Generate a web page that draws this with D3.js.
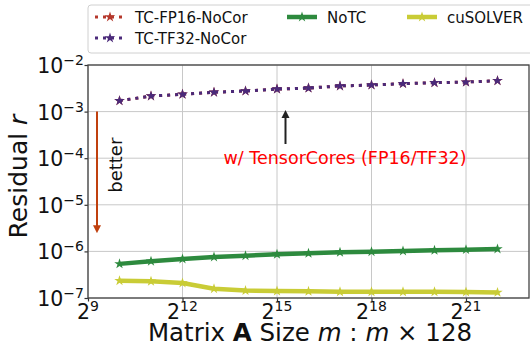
<!DOCTYPE html>
<html>
<head>
<meta charset="utf-8">
<script src="https://cdn.jsdelivr.net/npm/d3@7"></script>
<style>
  body { margin: 0; background: #fff; }
  svg { font-family: 'DejaVu Sans', sans-serif; }
</style>
</head>
<body>
<div id="chart"></div>
<script>
// Data

const sizeExp = [10, 11, 12, 13, 14, 15, 16, 17, 18, 19, 20, 21, 22];
const fp16NoCor = [1.71e-3, 2.16e-3, 2.35e-3, 2.6e-3, 2.77e-3, 3.05e-3, 3.2e-3, 3.55e-3, 3.72e-3, 3.98e-3, 4.17e-3, 4.3e-3, 4.6e-3];
const tf32NoCor = [1.71e-3, 2.16e-3, 2.35e-3, 2.6e-3, 2.77e-3, 3.05e-3, 3.2e-3, 3.55e-3, 3.72e-3, 3.98e-3, 4.17e-3, 4.3e-3, 4.6e-3];
const noTC = [5.4e-7, 6.14e-7, 6.87e-7, 7.58e-7, 8.09e-7, 8.67e-7, 9.1e-7, 9.57e-7, 9.86e-7, 1.02e-6, 1.057e-6, 1.09e-6, 1.13e-6];
const cuSolver = [2.35e-7, 2.28e-7, 2.1e-7, 1.58e-7, 1.44e-7, 1.41e-7, 1.39e-7, 1.36e-7, 1.36e-7, 1.36e-7, 1.36e-7, 1.35e-7, 1.32e-7];

const xTickExp = [9, 12, 15, 18, 21];
const yTickExp = [-2, -3, -4, -5, -6, -7];

const series = [
  { name: 'TC-FP16-NoCor', values: fp16NoCor, color: '#b5382c', dotted: true },
  { name: 'TC-TF32-NoCor', values: tf32NoCor, color: '#4b2a7a', dotted: true },
  { name: 'NoTC', values: noTC, color: '#2d8a3e', dotted: false },
  { name: 'cuSOLVER', values: cuSolver, color: '#c9cc36', dotted: false },
];

const width = 530;
const height = 347;
const margin = { top: 65, right: 1, bottom: 49, left: 88 };

const svg = d3.select('#chart').append('svg')
  .attr('width', width)
  .attr('height', height);

const plotW = width - margin.left - margin.right;
const plotH = height - margin.top - margin.bottom;

const xScale = d3.scaleLog().base(2).domain([2 ** 9, 2 ** 23]).range([0, plotW]);
const yScale = d3.scaleLog().domain([1e-7, 1e-2]).range([plotH, 0]);

const g = svg.append('g').attr('transform', `translate(${margin.left},${margin.top})`);

// grid
g.append('g').selectAll('line')
  .data(xTickExp)
  .join('line')
  .attr('x1', d => xScale(2 ** d)).attr('x2', d => xScale(2 ** d))
  .attr('y1', 0).attr('y2', plotH)
  .attr('stroke', '#c8c8c8').attr('stroke-width', 1);

g.append('g').selectAll('line')
  .data(yTickExp)
  .join('line')
  .attr('y1', d => yScale(10 ** d)).attr('y2', d => yScale(10 ** d))
  .attr('x1', 0).attr('x2', plotW)
  .attr('stroke', '#c8c8c8').attr('stroke-width', 1);

// axes (ticks only, labels drawn with superscripts below)
const xAxis = d3.axisBottom(xScale).tickValues(xTickExp.map(d => 2 ** d)).tickFormat('').tickSize(3.5);
const yAxis = d3.axisLeft(yScale).tickValues(yTickExp.map(d => 10 ** d)).tickFormat('').tickSize(3.5);

const xAxisGroup = g.append('g').attr('transform', `translate(0,${plotH})`).call(xAxis);
const yAxisGroup = g.append('g').call(yAxis);
[xAxisGroup, yAxisGroup].forEach(ax => {
  ax.select('.domain').remove();
  ax.selectAll('.tick line').attr('stroke', '#333').attr('stroke-width', 1.2);
});

// x tick labels 2^n
xTickExp.forEach(e => {
  const t = g.append('text')
    .attr('x', xScale(2 ** e))
    .attr('y', plotH + 21)
    .attr('text-anchor', 'middle')
    .attr('font-size', 20.5)
    .attr('fill', '#111');
  t.append('tspan').text('2');
  t.append('tspan').attr('font-size', 14).attr('dy', -8).text(e);
});

// y tick labels 10^n
yTickExp.forEach(e => {
  const t = g.append('text')
    .attr('x', -4)
    .attr('y', yScale(10 ** e) + 8)
    .attr('text-anchor', 'end')
    .attr('font-size', 20.5)
    .attr('fill', '#111');
  t.append('tspan').text('10');
  t.append('tspan').attr('font-size', 14).attr('dy', -8).text('\u2212' + Math.abs(e));
});

// spines
g.append('rect')
  .attr('width', plotW).attr('height', plotH)
  .attr('fill', 'none').attr('stroke', '#444').attr('stroke-width', 1.3);

// lines
const line = d3.line()
  .x((d, i) => xScale(2 ** sizeExp[i]))
  .y(d => yScale(d));

const star = d3.symbol().type(d3.symbolStar).size(34);

series.forEach(s => {
  g.append('path')
    .datum(s.values)
    .attr('d', line)
    .attr('fill', 'none')
    .attr('stroke', s.color)
    .attr('stroke-width', s.dotted ? 3 : 4.5)
    .attr('stroke-dasharray', s.dotted ? '3,5' : null)
    .attr('stroke-linejoin', 'round');

  g.append('g').selectAll('path')
    .data(s.values)
    .join('path')
    .attr('d', star)
    .attr('transform', (d, i) => `translate(${xScale(2 ** sizeExp[i])},${yScale(d)})`)
    .attr('fill', s.color);
});

// arrow heads
svg.append('defs').html(`
  <marker id="headOrange" viewBox="0 0 10 10" refX="5" refY="5" markerWidth="4" markerHeight="5" orient="auto">
    <path d="M0,0 L10,5 L0,10 z" fill="#c0400e"/>
  </marker>
  <marker id="headBlack" viewBox="0 0 10 10" refX="5" refY="5" markerWidth="4" markerHeight="5" orient="auto">
    <path d="M0,0 L10,5 L0,10 z" fill="#222"/>
  </marker>`);

// "better" arrow
const betterX = 9;
g.append('line')
  .attr('x1', betterX).attr('x2', betterX)
  .attr('y1', yScale(1e-3)).attr('y2', yScale(3e-6))
  .attr('stroke', '#c0400e').attr('stroke-width', 2)
  .attr('marker-end', 'url(#headOrange)');

g.append('text')
  .attr('transform', `translate(${betterX + 25},${yScale(1e-4) + 7}) rotate(-90)`)
  .attr('text-anchor', 'middle')
  .attr('font-size', 18)
  .attr('fill', '#111')
  .text('better');

// TensorCores annotation
const annX = 197.5;
g.append('line')
  .attr('x1', annX).attr('x2', annX)
  .attr('y1', 79).attr('y2', 49)
  .attr('stroke', '#222').attr('stroke-width', 2)
  .attr('marker-end', 'url(#headBlack)');

g.append('text')
  .attr('x', 257)
  .attr('y', 99)
  .attr('text-anchor', 'middle')
  .attr('font-size', 17.5)
  .attr('fill', '#ff0000')
  .text('w/ TensorCores (FP16/TF32)');

// axis titles
const xTitle = svg.append('text')
  .attr('x', 310)
  .attr('y', 341)
  .attr('text-anchor', 'middle')
  .attr('font-size', 24.5)
  .attr('fill', '#111');
xTitle.append('tspan').text('Matrix ');
xTitle.append('tspan').attr('font-weight', 'bold').text('A');
xTitle.append('tspan').text(' Size ');
xTitle.append('tspan').attr('font-style', 'italic').text('m');
xTitle.append('tspan').text(' : ');
xTitle.append('tspan').attr('font-style', 'italic').text('m');
xTitle.append('tspan').text(' \u00d7 128');

const yTitle = svg.append('text')
  .attr('transform', `translate(27,${margin.top + plotH / 2 - 5}) rotate(-90)`)
  .attr('text-anchor', 'middle')
  .attr('font-size', 25)
  .attr('fill', '#111');
yTitle.append('tspan').text('Residual ');
yTitle.append('tspan').attr('font-style', 'italic').text('r');

// legend
const legend = svg.append('g');
legend.append('rect')
  .attr('x', 88).attr('y', 5)
  .attr('width', 460).attr('height', 48)
  .attr('rx', 3)
  .attr('fill', '#fff').attr('fill-opacity', 0.85)
  .attr('stroke', '#d0d0d0');

const legendPos = [
  { x: 95, y: 17 },
  { x: 95, y: 38 },
  { x: 287, y: 17 },
  { x: 407, y: 17 },
];

series.forEach((s, i) => {
  const p = legendPos[i];
  const item = legend.append('g').attr('transform', `translate(${p.x},${p.y})`);
  item.append('line')
    .attr('x1', 0).attr('x2', 30)
    .attr('stroke', s.color)
    .attr('stroke-width', s.dotted ? 3 : 4.5)
    .attr('stroke-dasharray', s.dotted ? '3,5' : null);
  item.append('path')
    .attr('d', star)
    .attr('transform', 'translate(15,0)')
    .attr('fill', s.color);
  item.append('text')
    .attr('x', 40)
    .attr('y', 6)
    .attr('font-size', 15)
    .attr('fill', '#111')
    .text(s.name);
});
</script>
</body>
</html>
